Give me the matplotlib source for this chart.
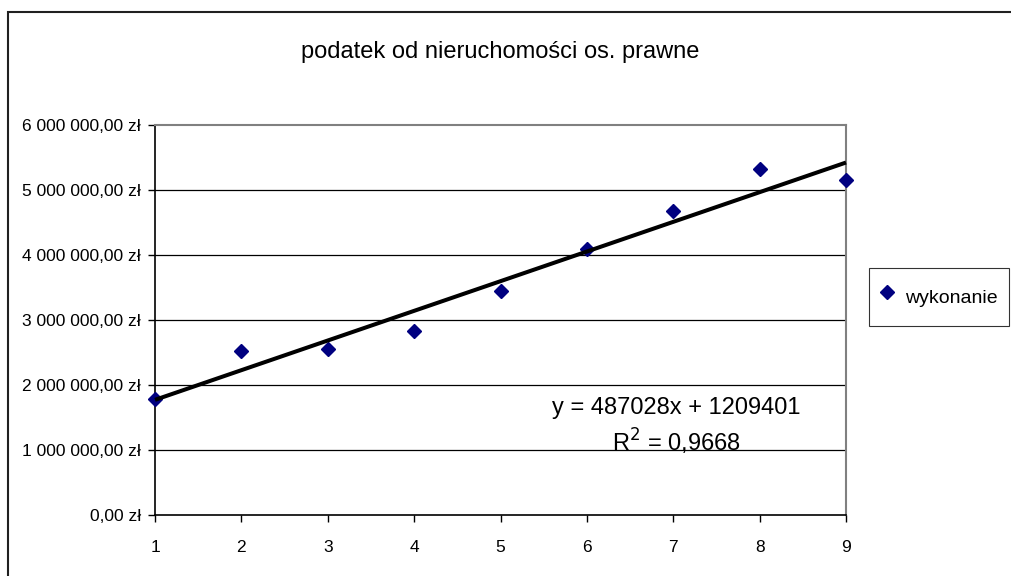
import numpy as np
import matplotlib
matplotlib.use("Agg")
import matplotlib.pyplot as plt
from matplotlib.patches import Rectangle
from matplotlib.ticker import FuncFormatter

## DATA
okres = np.arange(1, 10)
wykonanie = [1775000, 2518000, 2549000, 2826000, 3446000, 4088000, 4668000, 5314000, 5149000]
y_ticks = [0, 1000000, 2000000, 3000000, 4000000, 5000000, 6000000]
tytul = "podatek od nieruchomości os. prawne"
rownanie = "y = 487028x + 1209401\nR$^2$ = 0,9668"

NARROW = ['Liberation Sans Narrow', 'Liberation Sans', 'DejaVu Sans']
ARIAL = ['Liberation Sans', 'DejaVu Sans']


def zl(v, pos):
    """polish currency format: 6 000 000,00 zł"""
    s = "{:,.2f}".format(v).replace(",", " ").replace(".", ",")
    return s + " zł"


## FIGURE
W, H = 1011, 576
fig = plt.figure(figsize=(W / 100, H / 100), dpi=100)
fig.patch.set_facecolor('white')

# chart area frame (cut by the picture edge on the right and bottom)
fig.patches.append(Rectangle((8 / W, -0.05), 1.1, 1 - 12 / H + 0.05,
                             transform=fig.transFigure, fill=False,
                             edgecolor='#202020', lw=1.5))

ax = fig.add_axes([155 / W, (H - 514.7) / H, 691 / W, 390 / H])
ax.set_xlim(1, 9)
ax.set_ylim(0, 6000000)

# gridlines
for v in y_ticks[1:-1]:
    ax.axhline(v, color='black', lw=0.9, zorder=1)

# plot area border
for s in ['top', 'right']:
    ax.spines[s].set_color('#808080')
    ax.spines[s].set_linewidth(1.5)
for s in ['left', 'bottom']:
    ax.spines[s].set_color('black')
    ax.spines[s].set_linewidth(1.2)

ax.plot(okres, wykonanie, linestyle='none', marker='D', ms=7,
        color='#000080', mec='#000080', zorder=3, label='wykonanie', clip_on=False)

# linear trend
a, b = np.polyfit(okres, wykonanie, 1)
ax.plot([1, 9], [a * 1 + b, a * 9 + b], color='black', lw=2.9, zorder=4,
        solid_capstyle='butt', clip_on=False)

ax.set_xticks(okres)
ax.set_yticks(y_ticks)
ax.yaxis.set_major_formatter(FuncFormatter(zl))
ax.tick_params(direction='out', length=5, width=1, color='black', pad=5)
ax.tick_params(axis='x', pad=13)
for lab in ax.get_xticklabels() + ax.get_yticklabels():
    lab.set_family(NARROW)
    lab.set_fontsize(12.5)

fig.text(500 / W, 1 - 52 / H, tytul, ha='center', va='center',
         fontsize=17, family=ARIAL)

fig.text(676 / W, 1 - 427 / H, rownanie, ha='center', va='center',
         fontsize=17, family=ARIAL, linespacing=1.3, zorder=5)

leg = ax.legend(loc='center left', bbox_to_anchor=(869 / W, 1 - 297 / H),
                bbox_transform=fig.transFigure, frameon=True, fancybox=False,
                edgecolor='black', handlelength=0.7, handletextpad=0.55,
                handleheight=2.3, borderpad=0.6, borderaxespad=0,
                prop={'family': NARROW, 'size': 14})
leg.get_frame().set_linewidth(0.8)

fig.savefig('out.png', dpi=100)
